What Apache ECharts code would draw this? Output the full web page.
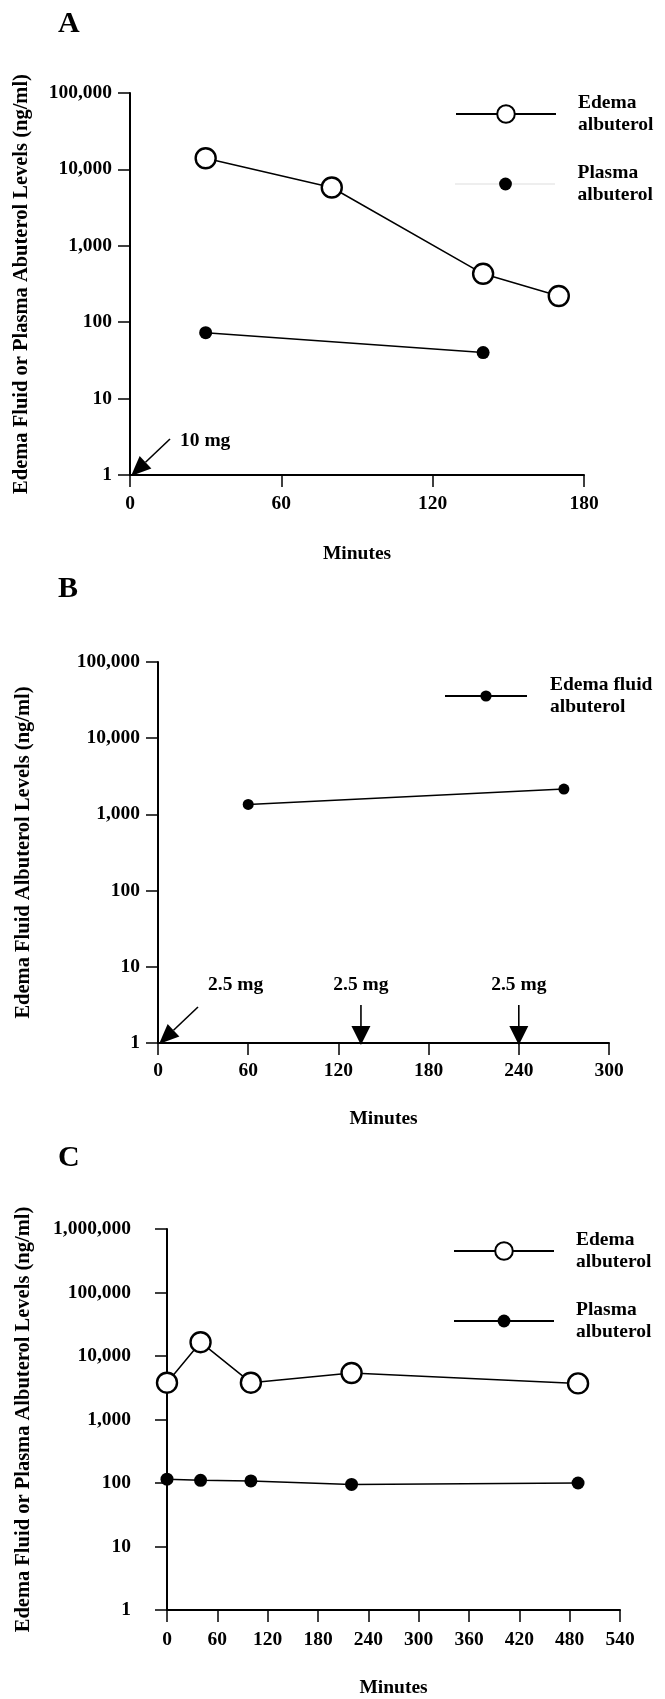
<!DOCTYPE html>
<html>
<head>
<meta charset="utf-8">
<title>Albuterol levels</title>
<script src="https://cdn.jsdelivr.net/npm/echarts@6/dist/echarts.min.js"></script>
<style>
    html, body { margin: 0; padding: 0; background: #fff; }
    #chart { width: 665px; height: 1699px; }
</style>
</head>
<body>
<div id="chart"></div>
<script>
// ---- panel A ----
const minutesA = [30, 80, 140, 170];
const edemaA = [14000, 5800, 430, 220];
const plasmaMinutesA = [30, 140];
const plasmaA = [73, 40];
const doseMinutesA = [0];
const doseLabelsA = ['10 mg'];

// ---- panel B ----
const minutesB = [60, 270];
const edemaFluidB = [1350, 2150];
const doseMinutesB = [0, 135, 240];
const doseLabelsB = ['2.5 mg', '2.5 mg', '2.5 mg'];

// ---- panel C ----
const minutesC = [0, 40, 100, 220, 490];
const edemaC = [3800, 16500, 3800, 5400, 3700];
const plasmaC = [115, 110, 108, 95, 100];

const panelLetters = ['A', 'B', 'C'];
const xMax = [180, 300, 540];
const yMax = [100000, 100000, 1000000];
const yTitles = [
    'Edema Fluid or Plasma Abuterol Levels (ng/ml)',
    'Edema Fluid Albuterol Levels (ng/ml)',
    'Edema Fluid or Plasma Albuterol Levels (ng/ml)'
];
const xTitle = 'Minutes';
const legendLabels = {
    'Edema albuterol': 'Edema\nalbuterol',
    'Plasma albuterol': 'Plasma\nalbuterol',
    'Edema fluid albuterol': 'Edema fluid\nalbuterol'
};

const FONT = '"Liberation Serif", "Times New Roman", serif';
const FS = 19.5;

const grids = [
    { left: 130, top: 93, width: 454, height: 382 },
    { left: 158, top: 662, width: 451, height: 381 },
    { left: 167, top: 1229, width: 453, height: 383 }
];
const yNameGap = [98, 124, 133];
const yLabelMargin = [18, 18, 36];
const xNameGap = [69, 66, 68];
const xLabelMargin = [19, 18, 20];

const textBase = { fontFamily: FONT, fontWeight: 'bold', fontSize: FS, color: '#000' };

const pair = (xs, ys) => xs.map((x, i) => [x, ys[i]]);

const openCircle = {
    symbol: 'circle', symbolSize: 20,
    itemStyle: { color: '#fff', borderColor: '#000', borderWidth: 2.4 }
};
const dot = (size) => ({
    symbol: 'circle', symbolSize: size,
    itemStyle: { color: '#000', borderColor: '#000', borderWidth: 0 }
});
const lineBase = { type: 'line', lineStyle: { color: '#000', width: 1.5 }, z: 3, animation: false };

const chart = echarts.init(document.getElementById('chart'), null, { renderer: 'canvas' });

const option = {
    animation: false,
    backgroundColor: '#fff',
    title: panelLetters.map((t, i) => ({
        text: t,
        left: 58,
        top: [9, 574, 1143][i],
        padding: 0,
        textStyle: { fontFamily: FONT, fontWeight: 'bold', fontSize: 30, color: '#000' }
    })),
    grid: grids,
    xAxis: grids.map((g, i) => ({
        type: 'value', gridIndex: i, min: 0, max: xMax[i], interval: 60,
        name: xTitle, nameLocation: 'middle', nameGap: xNameGap[i],
        nameTextStyle: textBase,
        axisLine: { show: true, onZero: false, lineStyle: { color: '#000', width: 2 } },
        axisTick: { show: true, length: 12, lineStyle: { color: '#000', width: 1.5 } },
        axisLabel: Object.assign({ margin: xLabelMargin[i] }, textBase),
        splitLine: { show: false }
    })),
    yAxis: grids.map((g, i) => ({
        type: 'log', logBase: 10, gridIndex: i, min: 1, max: yMax[i],
        name: yTitles[i], nameLocation: 'middle', nameGap: yNameGap[i], nameRotate: 90,
        nameTextStyle: Object.assign({}, textBase, { fontSize: 20.5 }),
        axisLine: { show: true, lineStyle: { color: '#000', width: 2 } },
        axisTick: { show: true, length: 12, lineStyle: { color: '#000', width: 1.5 } },
        axisLabel: Object.assign({
            margin: yLabelMargin[i],
            formatter: v => Math.round(v).toLocaleString('en-US')
        }, textBase),
        splitLine: { show: false },
        minorTick: { show: false }
    })),
    legend: [
        legendFor('Edema albuterol', 455, 114, 100, 22, 17),
        legendFor('Plasma albuterol', 455, 184, 100, 16, 17,
            { color: '#bbb', type: 'dotted', width: 1 }),
        legendFor('Edema fluid albuterol', 444, 696, 82, 14, 18),
        legendFor('Edema albuterol', 453, 1251, 100, 22, 17),
        legendFor('Plasma albuterol', 453, 1321, 100, 16, 17)
    ],
    series: [
        Object.assign({}, lineBase, openCircle, {
            name: 'Edema albuterol', xAxisIndex: 0, yAxisIndex: 0, data: pair(minutesA, edemaA)
        }),
        Object.assign({}, lineBase, dot(13), {
            name: 'Plasma albuterol', xAxisIndex: 0, yAxisIndex: 0, data: pair(plasmaMinutesA, plasmaA)
        }),
        Object.assign({}, lineBase, dot(11), {
            name: 'Edema fluid albuterol', xAxisIndex: 1, yAxisIndex: 1, data: pair(minutesB, edemaFluidB)
        }),
        Object.assign({}, lineBase, openCircle, {
            name: 'Edema albuterol', xAxisIndex: 2, yAxisIndex: 2, data: pair(minutesC, edemaC)
        }),
        Object.assign({}, lineBase, dot(13), {
            name: 'Plasma albuterol', xAxisIndex: 2, yAxisIndex: 2, data: pair(minutesC, plasmaC)
        })
    ]
};

function legendFor(name, left, centerY, itemWidth, itemHeight, textGap, lineStyle) {
    const item = { name: name };
    if (lineStyle) item.lineStyle = lineStyle;
    return {
        orient: 'vertical', left: left, top: centerY - 22, padding: 0,
        itemWidth: itemWidth, itemHeight: itemHeight, selectedMode: false,
        data: [item],
        formatter: n => legendLabels[n] || n,
        textStyle: Object.assign({ lineHeight: 22, padding: [0, 0, 0, textGap] }, textBase)
    };
}

chart.setOption(option);

// dose arrows, placed from the axes' own scales
const graphics = [];
function arrow(x1, y1, x2, y2, headLen, headHalf) {
    const dx = x2 - x1, dy = y2 - y1;
    const len = Math.sqrt(dx * dx + dy * dy);
    const ux = dx / len, uy = dy / len;
    const bx = x2 - ux * headLen, by = y2 - uy * headLen;
    graphics.push({
        type: 'line', z: 10,
        shape: { x1: x1, y1: y1, x2: bx, y2: by },
        style: { stroke: '#000', lineWidth: 1.6 }
    });
    graphics.push({
        type: 'polygon', z: 10,
        shape: { points: [[x2, y2], [bx - uy * headHalf, by + ux * headHalf], [bx + uy * headHalf, by - ux * headHalf]] },
        style: { fill: '#000' }
    });
}
function label(text, x, y, align) {
    graphics.push({
        type: 'text', z: 10, x: x, y: y,
        style: { text: text, font: 'bold ' + FS + 'px ' + FONT, fill: '#000', align: align, verticalAlign: 'middle' }
    });
}
function doses(gridIndex, minutes, labels, labelRise) {
    minutes.forEach((m, i) => {
        const p = chart.convertToPixel({ gridIndex: gridIndex }, [m, 1]);
        if (m === 0) {
            arrow(p[0] + 40, p[1] - 36, p[0] + 1, p[1] + 1, 20, 8.5);
            label(labels[i], p[0] + 50, p[1] - labelRise, 'left');
        } else {
            arrow(p[0], p[1] - 38, p[0], p[1] + 2, 19, 9.5);
            label(labels[i], p[0], p[1] - labelRise, 'center');
        }
    });
}
doses(0, doseMinutesA, doseLabelsA, 34);
doses(1, doseMinutesB, doseLabelsB, 58);

chart.setOption({ graphic: graphics });
</script>
</body>
</html>
